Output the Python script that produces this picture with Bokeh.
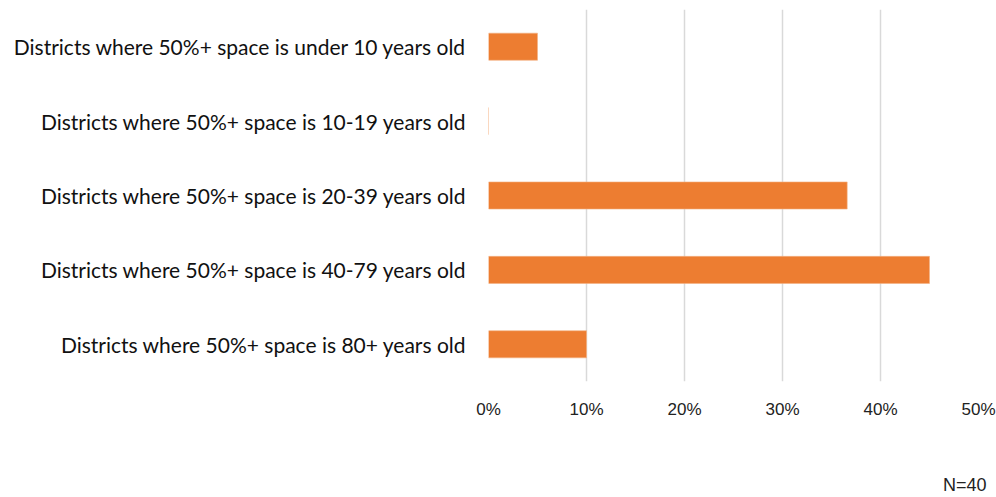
from bokeh.plotting import figure
from bokeh.models import (FixedTicker, NumeralTickFormatter, Range1d, LinearAxis,
                          CustomJSTickFormatter)
from bokeh.embed import file_html
from bokeh.resources import INLINE

categories = [
    "Districts where 50%+ space is under 10 years old",
    "Districts where 50%+ space is 10-19 years old",
    "Districts where 50%+ space is 20-39 years old",
    "Districts where 50%+ space is 40-79 years old",
    "Districts where 50%+ space is 80+ years old",
]
values = [0.05, 0.0, 0.366, 0.45, 0.10]
x_ticks = [0, 0.1, 0.2, 0.3, 0.4, 0.5]
note = "N=40"
note_pos = 0.486  # where the note sits along the x scale

p = figure(
    width=996, height=497,
    y_range=list(reversed(categories)),
    x_range=Range1d(0, 0.5),
    output_backend="svg", toolbar_location=None,
    min_border_left=488, min_border_right=18,
    min_border_top=9, min_border_bottom=113,
)
p.hbar(y=categories, right=values, height=0.364, color="#ED7D31",
       line_color="#F4B183", line_width=0.6)

p.outline_line_color = None
p.ygrid.grid_line_color = None
p.xgrid.grid_line_color = "#D9D9D9"
p.xgrid.grid_line_width = 1.5
p.xgrid.ticker = FixedTicker(ticks=x_ticks)

xa = p.xaxis[0]
xa.ticker = FixedTicker(ticks=x_ticks)
xa.formatter = NumeralTickFormatter(format="0%")
xa.axis_line_color = None
xa.major_tick_line_color = None
xa.minor_tick_line_color = None
xa.major_label_text_font = "Liberation Sans"
xa.major_label_text_font_size = "17px"
xa.major_label_text_color = "#222222"
xa.major_label_standoff = 12

p.yaxis.axis_line_color = None
p.yaxis.major_tick_line_color = None
p.yaxis.minor_tick_line_color = None
p.yaxis.major_label_text_font = "Lato"
p.yaxis.major_label_text_font_size = "21px"
p.yaxis.major_label_text_color = "#111111"
p.yaxis.major_label_standoff = 16

note_axis = LinearAxis(
    ticker=FixedTicker(ticks=[note_pos]),
    formatter=CustomJSTickFormatter(args=dict(t=note), code="return t"),
    axis_line_color=None,
    major_tick_line_color=None,
    minor_tick_line_color=None,
    major_label_standoff=47,
    major_label_text_font="Liberation Sans",
    major_label_text_font_size="18px",
    major_label_text_color="#222222",
)
p.add_layout(note_axis, "below")

open("out.html", "w").write(file_html(p, INLINE))
